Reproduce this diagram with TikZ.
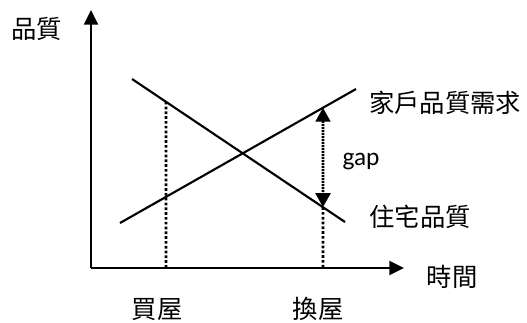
\documentclass[tikz,border=0pt]{standalone}
\usepackage{fontspec}
\setmainfont{Carlito}
\newfontfamily\cjk{Noto Sans CJK TC}
\usetikzlibrary{arrows.meta,calc}
\begin{document}
\begin{tikzpicture}[x=0.75pt,y=-0.75pt,line width=1.6pt,
  txt/.style={inner sep=0pt,font=\fontsize{19}{19}\selectfont\cjk},
  axis/.style={-{Triangle[length=11pt,width=10.5pt]}},
  drop/.style={line width=2pt,dash pattern=on 2pt off 1.6pt},
  gaparrow/.style={{Triangle[length=10.5pt,width=11pt]}-{Triangle[length=10.5pt,width=11pt]},
    line width=2.2pt,dash pattern=on 1.5pt off 0.75pt}]
\useasboundingbox (0,0) rectangle (527,322);
\coordinate (O) at (91,268);
\coordinate (ytop) at (91,10);
\coordinate (xend) at (404,268);
\coordinate (s1) at (132,79);  \coordinate (s2) at (345,222);
\coordinate (d1) at (120,223); \coordinate (d2) at (356,89);
\coordinate (buy) at ($(s1)!{(166-132)/(345-132)}!(s2)$);
\coordinate (buyx) at (166,268);
\coordinate (swap) at ($(s1)!{(323-132)/(345-132)}!(s2)$);
\coordinate (swapx) at (323,268);
\coordinate (want) at ($(d1)!{(323-120)/(356-120)}!(d2)$);
\draw[axis] (O) -- (ytop);
\draw[axis] (O) -- (xend);
\draw (s1) -- (s2);
\draw (d1) -- (d2);
\draw[drop] (buy) -- (buyx);
\draw[drop] (swap) -- (swapx);
\draw[gaparrow] (want) -- (swap);
\node[txt] (yl) at (37,29) {品質};
\node[txt] (xl) at (452,277) {時間};
\node[txt] (dl) at (445,103) {家戶品質需求};
\node[txt] (sl) at (420,217) {住宅品質};
\node[txt] (bl) at (157,309) {買屋};
\node[txt] (wl) at (318,309) {換屋};
\node[inner sep=0pt,font=\fontsize{19}{19}\selectfont] (gap) at (361,162) {gap};
\end{tikzpicture}
\end{document}
